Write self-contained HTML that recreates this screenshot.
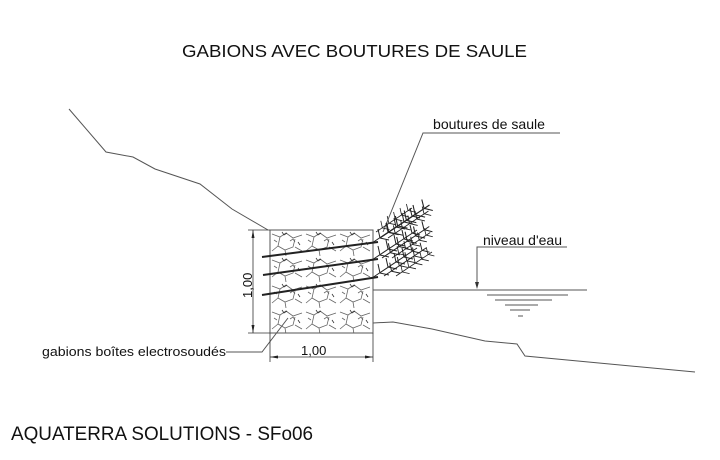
<!DOCTYPE html>
<html><head><meta charset="utf-8"><style>
html,body{margin:0;padding:0;background:#fff;}
svg{display:block;}
text{font-family:"Liberation Sans",Arial,sans-serif;fill:#111;}
</style></head><body>
<svg width="720" height="460" viewBox="0 0 720 460" xmlns="http://www.w3.org/2000/svg">
<defs>
<g id="fern" stroke="#222" stroke-width="1" fill="none">
<path d="M0 0 L45 -30"/>
<path d="M8 -5 l-2 -9 M8 -5 l9 2 M16 -11 l-2 -9 M16 -11 l9 2 M24 -16 l-2 -9 M24 -16 l9 2 M32 -21 l-2 -9 M32 -21 l9 2 M40 -27 l-2 -8 M40 -27 l8 2"/>
</g>
<pattern id="gab" width="34" height="26" patternUnits="userSpaceOnUse" x="270" y="230">
<g stroke="#666" stroke-width="0.8" fill="none">
<path d="M2 4 l8 3 l6 -4 l7 5 l9 -3 M10 7 l-2 9 l7 4 l8 -3 l2 -8 M8 16 l-6 5 M25 17 l7 4 M15 20 l1 6 M4 10 l3 2 M20 11 l3 -2 l2 3"/>
<path d="M12 2 l2 3 l3 -2 M28 12 l2 3" stroke="#333"/>
</g>
</pattern>
</defs>

<text x="182" y="57" font-size="17.5" textLength="345" lengthAdjust="spacingAndGlyphs">GABIONS AVEC BOUTURES DE SAULE</text>

<g stroke="#555" stroke-width="1" fill="none">
<polyline points="69,109 106,152 133,157 155,169 200,184 232,209 268,230"/>
<polyline points="373,323 393,322 432,329 485,341 517,344 525,356 695,372"/>
<line x1="373" y1="290" x2="587" y2="290"/>
<line x1="487" y1="295" x2="568" y2="295"/>
<line x1="495" y1="300" x2="552" y2="300"/>
<line x1="505" y1="305" x2="538" y2="305"/>
<line x1="510" y1="310" x2="530" y2="310"/>
<line x1="518" y1="316" x2="523" y2="316"/>
<polyline points="560,133 423,133 383,232"/>
<polyline points="567,247 477,247 477,287"/>
<polyline points="226,352 262,352 288,318"/>
</g>
<path d="M475 282 L477 289 L479 282 Z" fill="#333"/>

<rect x="270" y="230" width="103" height="103" fill="url(#gab)" stroke="#555" stroke-width="1"/>

<g stroke="#333" stroke-width="0.8" fill="none">
<line x1="253" y1="230" x2="253" y2="333"/>
<line x1="248" y1="230" x2="270" y2="230"/>
<line x1="248" y1="333" x2="270" y2="333"/>
<line x1="270" y1="357" x2="373" y2="357"/>
<line x1="270" y1="333" x2="270" y2="362"/>
<line x1="373" y1="333" x2="373" y2="362"/>
</g>
<path d="M251.5 238 L253 230 L254.5 238 Z M251.5 325 L253 333 L254.5 325 Z M278 355.5 L270 357 L278 358.5 Z M365 355.5 L373 357 L365 358.5 Z" fill="#222"/>
<text x="0" y="0" font-size="13" transform="translate(252,298) rotate(-90)">1,00</text>
<text x="301" y="355" font-size="13">1,00</text>

<g stroke="#222" stroke-width="2" fill="none">
<line x1="262" y1="257" x2="378" y2="242"/>
<line x1="263" y1="275" x2="378" y2="259"/>
<line x1="262" y1="295" x2="378" y2="277"/>
</g>
<use href="#fern" transform="translate(372,243)"/>
<use href="#fern" transform="translate(380,238) scale(1.1)"/>
<use href="#fern" transform="translate(388,238) scale(0.9)"/>
<use href="#fern" transform="translate(372,260)"/>
<use href="#fern" transform="translate(382,258) scale(1.05)"/>
<use href="#fern" transform="translate(392,258) scale(0.85)"/>
<use href="#fern" transform="translate(372,278)"/>
<use href="#fern" transform="translate(384,276) scale(0.95)"/>
<use href="#fern" transform="translate(396,276) scale(0.8)"/>
<use href="#fern" transform="translate(376,232) scale(0.8)"/>

<text x="433" y="129" font-size="14" textLength="112" lengthAdjust="spacingAndGlyphs">boutures de saule</text>
<text x="483" y="245" font-size="14" textLength="79" lengthAdjust="spacingAndGlyphs">niveau d'eau</text>
<text x="42" y="356" font-size="13" textLength="184" lengthAdjust="spacingAndGlyphs">gabions boîtes electrosoudés</text>
<text x="11" y="440" font-size="19" textLength="302" lengthAdjust="spacingAndGlyphs">AQUATERRA SOLUTIONS - SFo06</text>
</svg>
</body></html>
